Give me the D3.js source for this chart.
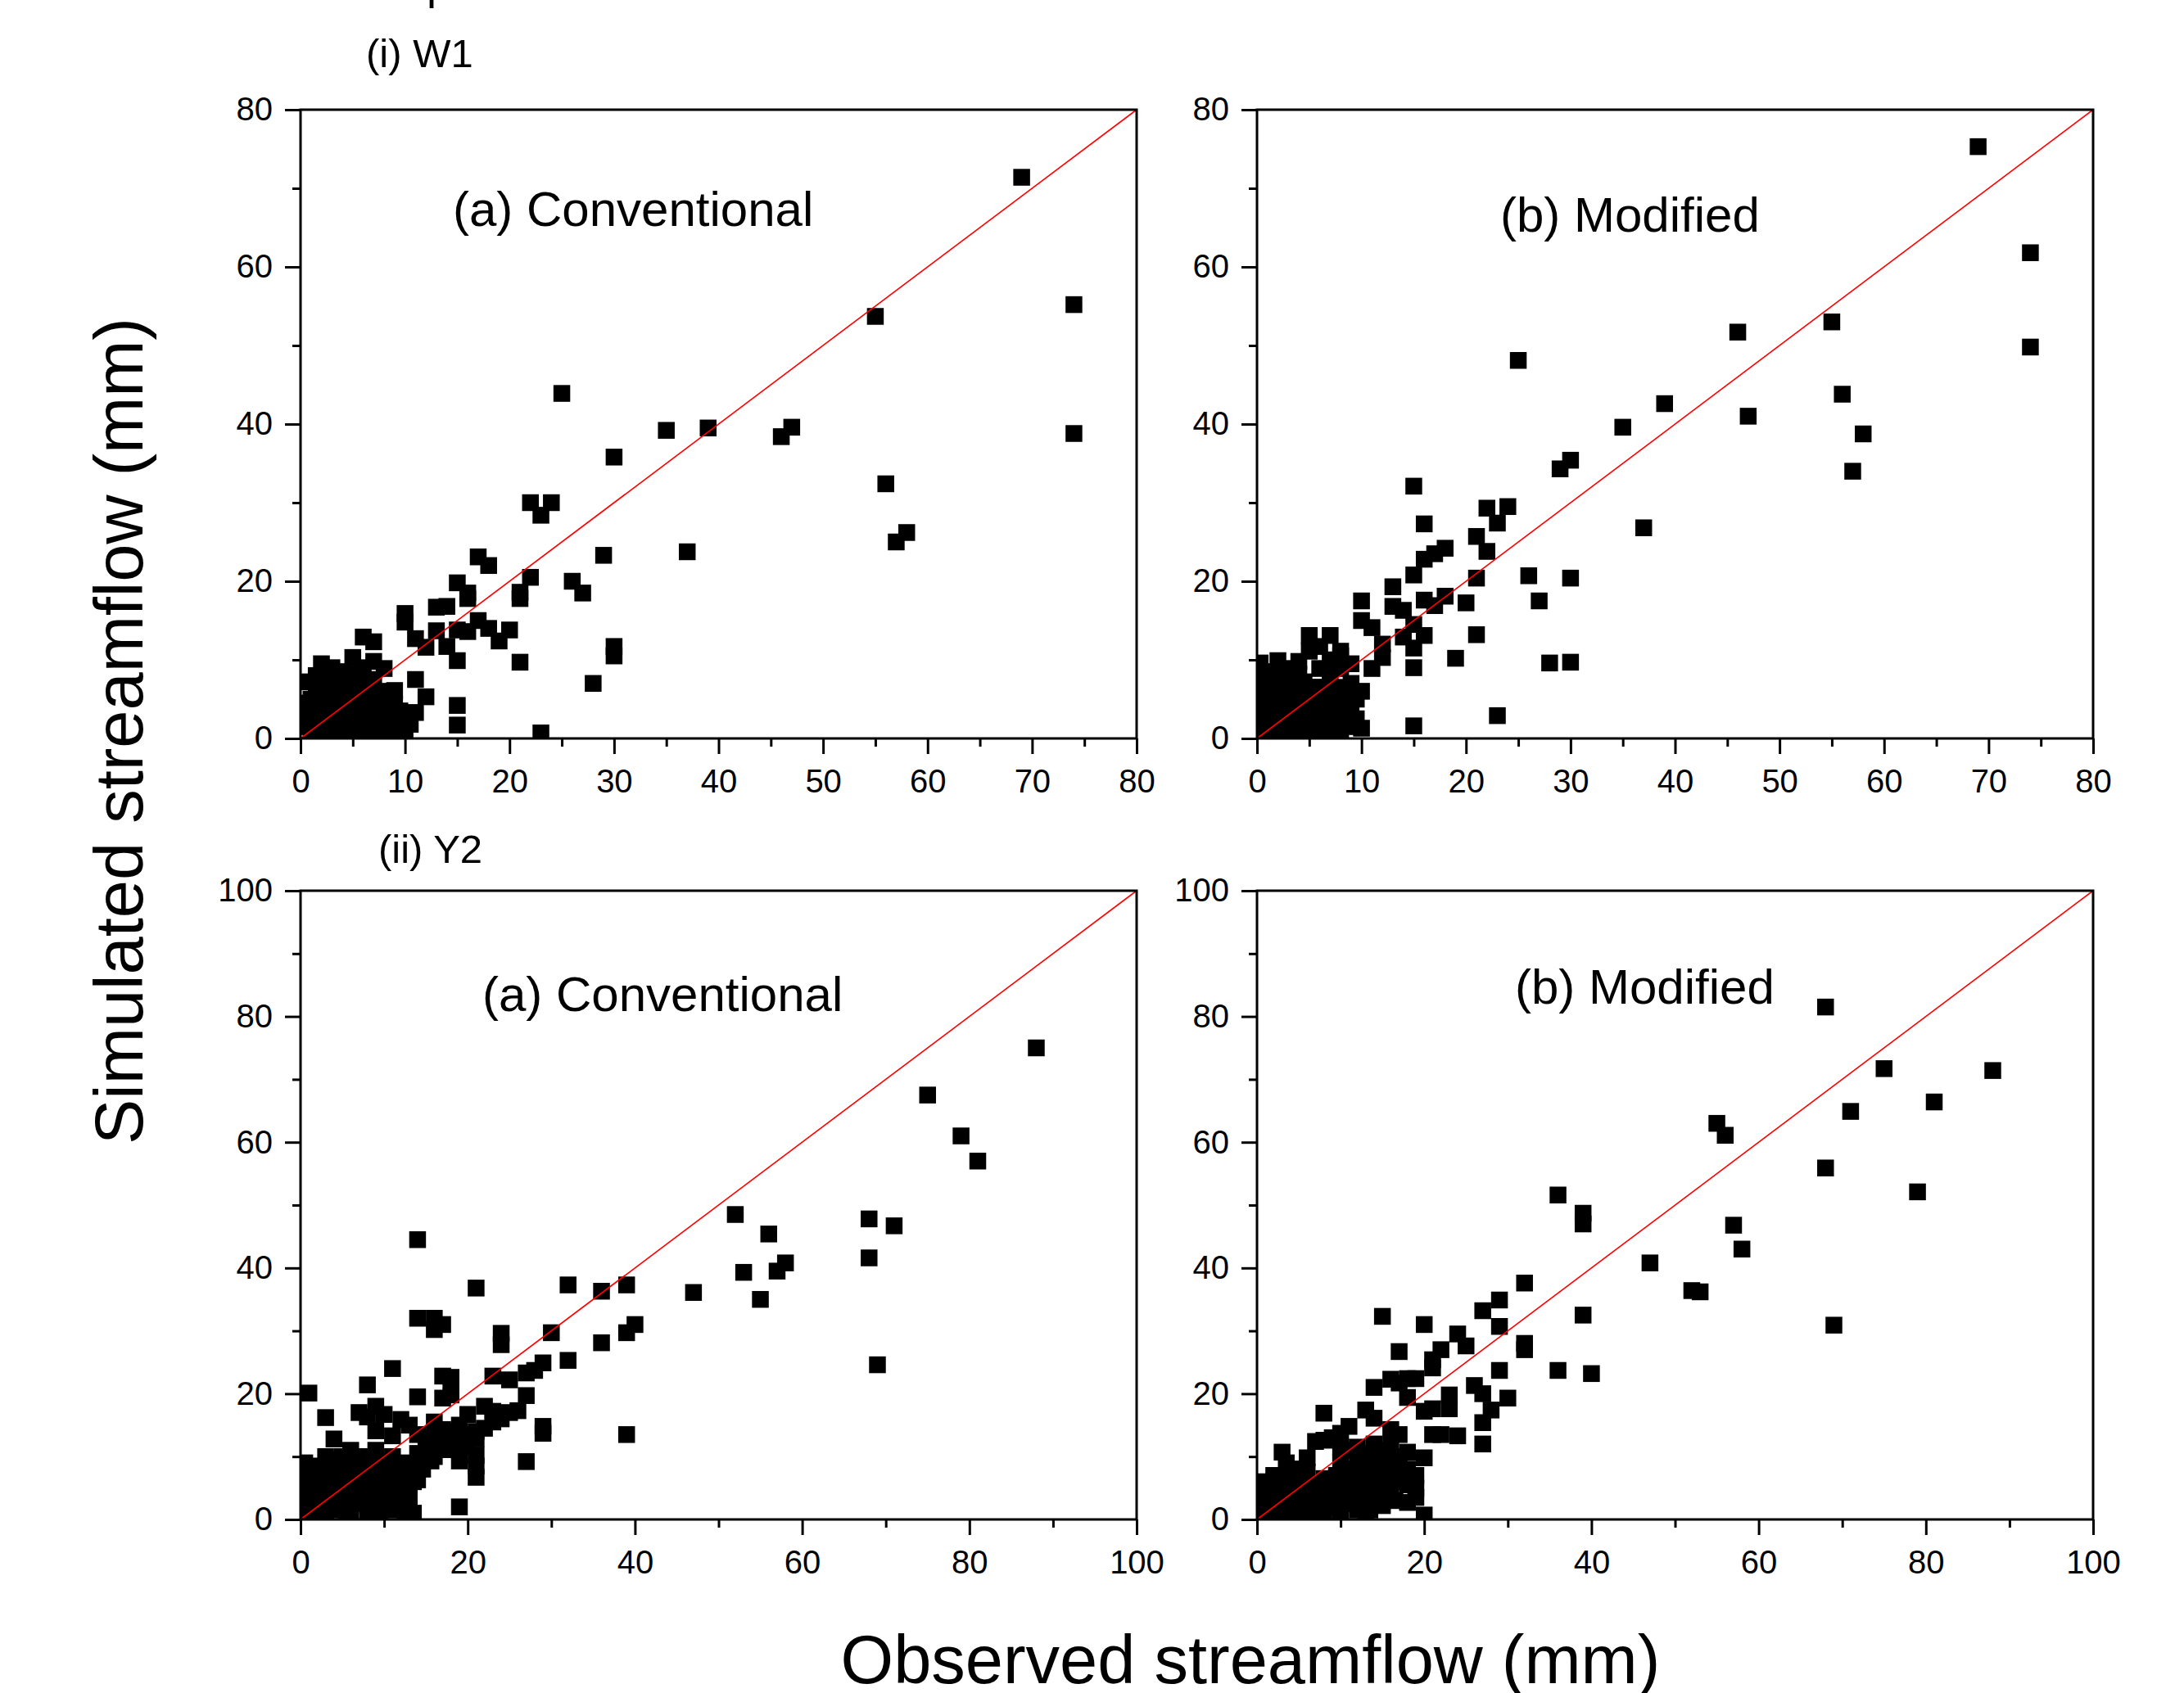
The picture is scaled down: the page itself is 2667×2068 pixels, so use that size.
<!DOCTYPE html>
<html>
<head>
<meta charset="utf-8">
<script src="https://cdn.jsdelivr.net/npm/d3@7"></script>
<style>
    body { margin: 0; background: #fff; }
    svg { display: block; font-family: "Liberation Sans", Arial, sans-serif; }
</style>
</head>
<body>
<div class="chart"></div>
<script>
(function () {
    // [observed, simulated] in mm
    const w1Conventional = [
        [69, 71.4], [74, 55.2], [74, 38.8], [55, 53.7], [46, 38.4], [47, 39.6], [56, 32.4], [57, 25], [58, 26.2],
        [37, 23.75], [35, 39.2], [39, 39.5], [25, 43.9], [30, 35.8], [22, 30], [24, 30], [23, 28.4], [29, 23.3],
        [17, 23.1], [18, 22], [22, 20.5], [21, 18.6], [21, 17.8], [26, 20], [27, 18.5], [15, 19.8], [16, 18.5],
        [16, 17.8], [13, 16.7], [14, 16.8], [10, 15.9], [10, 14.8], [17, 15], [18, 14], [20, 13.8], [19, 12.4],
        [11, 12.7], [12, 11.6], [13, 13.7], [14, 11.7], [15, 13.8], [16, 13.6], [15, 9.9], [21, 9.7], [30, 11.7],
        [30, 10.5], [28, 7], [15, 4.2], [15, 1.7], [23, 0.7], [6, 12.9], [7, 12.3], [2, 9.5], [5, 10.3], [7, 9.8],
        [8, 8.9], [11, 7.5], [12, 5.3], [11, 3.3], [9, 6.1], [9, 4.4], [10, 0.9],
        [0.5, 7.2], [1, 5], [1, 2.5], [1, 0.8], [2, 6.5], [2, 3.8], [2, 1.5], [3, 7.8], [3, 5.2], [3, 2.5], [3, 0.6],
        [4, 7], [4, 4.5], [4, 1.8], [5, 8.2], [5, 5.8], [5, 3], [5, 0.8], [6, 6.8], [6, 4], [6, 1.5], [7, 7.5],
        [7, 5.2], [7, 2.8], [7, 0.6], [8, 6], [8, 3.5], [8, 1.2], [9, 2.2], [3, 9], [4, 8.5], [6, 9], [0.3, 3.5], [10, 2.5],
        [0.5, 1.5], [0.5, 4.5], [1.5, 3], [1.5, 6.5], [2.5, 0.5], [2.5, 4.5], [3.5, 3.5], [3.5, 6.2], [4.5, 0.6],
        [4.5, 2.8], [5.5, 2], [5.5, 4.6], [5.5, 7], [6.5, 0.8], [6.5, 3.2], [6.5, 5.8], [7.5, 1.8], [7.5, 4.2],
        [8.5, 3.2], [8.5, 5.3], [8.5, 0.5], [9.5, 3.5], [1.5, 8], [10.5, 1.8], [2, 4.8], [4, 3.2]
    ];
    const w1Modified = [
        [69, 75.3], [74, 61.8], [74, 49.8], [55, 53], [46, 51.7], [25, 48.1], [56, 43.8], [47, 41], [58, 38.75],
        [57, 34], [39, 42.6], [35, 39.6], [30, 35.4], [29, 34.3], [15, 32.1], [16, 27.3], [22, 29.3], [24, 29.5],
        [23, 27.4], [21, 25.7], [22, 23.8], [37, 26.8], [16, 22.8], [17, 23.5], [18, 24.2], [15, 20.8], [21, 20.4],
        [26, 20.7], [30, 20.4], [27, 17.5], [20, 17.25], [13, 19.3], [13, 16.8], [14, 16.3], [10, 17.5], [10, 15],
        [11, 14.1], [16, 17.6], [18, 18.1], [17, 16.9], [12, 12], [11, 8.9], [12, 10.3], [15, 14.5], [15, 11.5],
        [16, 13.1], [14, 12.9], [15, 9], [21, 13.2], [19, 10.2], [28, 9.6], [30, 9.7], [23, 2.9], [15, 1.6], [10, 6],
        [10, 1.3], [5, 13.1], [7, 13.1], [6, 11.7], [8, 11.1], [5, 11.1], [8, 8.9], [6, 8.9], [2, 9.9], [3, 8.9],
        [4, 8.2], [0.3, 9.6], [1, 7], [1, 4], [1, 1.5], [2, 6], [2, 3], [3, 5], [3, 1], [4, 6.5], [4, 3], [5, 5],
        [5, 2], [6, 4], [6, 1], [6, 6.5], [7, 3], [7, 6], [8, 2], [8, 5], [8, 0.8], [9, 4], [9, 1.5], [9, 7], [3, 7],
        [2, 0.5], [0.5, 2], [0.5, 5.5], [9, 9.5],
        [0.5, 0.8], [0.5, 3.8], [0.5, 7.5], [1.5, 2.5], [1.5, 5.5], [1.5, 8.5], [2.5, 1.5], [2.5, 4.2], [2.5, 7.5],
        [3.5, 3], [3.5, 6], [4, 9.8], [4.5, 1], [4.5, 4.5], [4.5, 7.2], [5.5, 3.5], [5.5, 6.5], [6.5, 3], [6.5, 5.5],
        [7, 8], [7.5, 4.5], [7.5, 1], [8.5, 3], [8.5, 6.5], [9.5, 5], [9.5, 2.5], [7, 10], [8, 10.5]
    ];
    const y2Conventional = [
        [88, 75], [75, 67.5], [79, 61], [81, 57], [52, 48.5], [68, 47.8], [71, 46.7], [56, 45.4], [68, 41.6],
        [58, 40.8], [53, 39.3], [57, 39.5], [55, 35], [47, 36.1], [69, 24.6], [14, 44.5], [21, 36.8], [32, 37.3],
        [36, 36.3], [39, 37.3], [14, 32], [16, 32], [17, 31], [16, 30.2], [24, 29.6], [24, 27.8], [30, 29.7],
        [39, 29.7], [40, 31], [36, 28.1], [32, 25.3], [29, 24.9], [11, 24], [8, 21.4], [1, 20.1], [14, 19.5],
        [3, 16.2], [17, 22.8], [18, 22.6], [17, 19.3], [18, 19.8], [18, 21.1], [27, 19.7], [26, 17.3], [29, 14.8],
        [29, 13.7], [27, 9.2], [21, 6.7], [21, 10.2], [21, 12.8], [39, 13.5], [19, 2], [23, 17.2], [22, 18],
        [25, 22.2], [23, 22.8], [27, 23.3], [28, 23.7], [7, 17], [9, 18], [10, 16.7], [12, 15.9], [13, 15],
        [8, 16.3], [9, 14.1], [11, 13.3], [4, 12.8], [17, 14.3], [19, 15], [20, 16.7], [17.5, 11.1], [15.6, 9.3],
        [19, 9.3], [14.6, 8], [14, 6.3], [12, 2], [13, 2], [0.5, 9], [1, 7], [1, 4], [1, 1], [2, 8], [2, 5], [2, 2],
        [3, 10], [3, 6], [3, 3], [3, 0.5], [4, 8], [4, 5], [4, 1.5], [5, 10], [5, 7], [5, 3], [6, 11], [6, 8], [6, 4],
        [6, 1], [7, 9.5], [7, 6], [7, 2.5], [8, 10], [8, 7], [8, 4], [8, 1], [9, 11], [9, 8], [9, 5], [9, 2], [10, 9],
        [10, 6], [10, 3], [11, 10], [11, 7], [11, 4], [11, 1.5], [12, 8], [12, 5], [13, 7], [13, 3.5], [14, 10.5],
        [15, 12], [16, 10], [18, 12.5], [20, 13.5], [22, 14.5], [24, 16], [25, 17],
        [0.5, 2.5], [0.5, 5.5], [1.5, 3], [1.5, 6], [1.5, 8.5], [2.5, 1], [2.5, 4], [2.5, 7], [3.5, 2], [3.5, 5],
        [3.5, 8.5], [4.5, 3.5], [4.5, 6.5], [4.5, 9.5], [5.5, 1], [5.5, 5], [5.5, 8.5], [6.5, 2.5], [6.5, 6],
        [6.5, 10], [7.5, 4], [7.5, 8], [8.5, 2.5], [8.5, 6], [8.5, 9.5], [9.5, 1], [9.5, 4], [9.5, 7.5], [10.5, 2],
        [10.5, 5], [10.5, 8.5], [11.5, 3], [11.5, 6], [12.5, 1], [12.5, 4], [12.5, 9], [13.5, 6], [13.5, 1], [14, 8],
        [15, 10], [16, 12], [17, 12.5], [15.5, 13], [19, 12], [19, 11], [20, 11.5], [21, 14], [23, 15.5], [18, 14],
        [16, 15.5], [14, 13.5], [21, 8.5]
    ];
    const y2Modified = [
        [68, 81.5], [75, 71.7], [88, 71.4], [81, 66.4], [71, 64.9], [55, 63], [56, 61.1], [68, 55.9], [79, 52.1],
        [57, 46.8], [58, 43], [47, 40.8], [52, 36.4], [53, 36.2], [69, 30.9], [36, 51.6], [39, 48.7], [39, 47],
        [32, 37.6], [29, 34.9], [27, 33.2], [29, 30.7], [15, 32.3], [20, 31], [39, 32.5], [32, 28], [32, 27],
        [24, 29.5], [25, 27.6], [22, 27], [21, 25.4], [21, 24.1], [17, 26.7], [29, 23.7], [36, 23.7], [40, 23.2],
        [14, 21], [16, 22.3], [18, 22.4], [19, 22.4], [18, 19.4], [17, 21.7], [26, 21.3], [27, 20], [30, 19.3],
        [28, 17.4], [27, 15.4], [27, 12], [23, 19.8], [23, 17.6], [21, 17.6], [20, 17.2], [21, 13.5], [24, 13.3],
        [22, 13.5], [8, 16.9], [13, 17.4], [14, 16.1], [11, 14.8], [10, 13.7], [7, 12.4], [8, 12.6], [9, 13],
        [16, 14.3], [17, 13.5], [16, 11.7], [18, 10.7], [20, 9.8], [15, 2.2], [18, 2.7], [20, 0.7], [3, 10.7],
        [6, 9.8], [0.5, 6], [1, 4], [1, 1.5], [2, 7], [2, 3], [3, 5], [3, 1], [4, 8], [4, 4], [5, 6], [5, 2],
        [6, 7.5], [6, 4], [6, 1], [7, 5.5], [7, 2.5], [8, 6.5], [8, 4], [8, 1], [9, 6], [9, 2.5], [10, 9], [10, 4.5],
        [10, 1], [11, 7], [11, 3], [12, 9], [12, 5], [12, 1.5], [13, 7], [13, 3], [14, 9.5], [14, 5], [15, 7],
        [16, 8.5], [16, 4.5], [17, 6], [18, 8], [19, 5], [12, 11.5], [14, 12], [13, 0.5],
        [0.5, 2.5], [0.5, 4.5], [1.5, 1], [1.5, 3], [1.5, 5.5], [2.5, 2], [2.5, 4.5], [2.5, 6.5], [3.5, 3], [3.5, 7],
        [3.5, 9], [4.5, 1], [4.5, 3], [4.5, 6], [5.5, 4], [5.5, 8], [6.5, 2], [6.5, 5.5], [7.5, 3.5], [7.5, 1],
        [8.5, 5], [8.5, 2], [9.5, 3.5], [9.5, 7], [10.5, 2.5], [10.5, 6], [11.5, 4.5], [11.5, 8], [12.5, 3],
        [12.5, 6.5], [13.5, 5], [13.5, 8.5], [13.5, 1.5], [14.5, 3.5], [14.5, 7], [15.5, 6], [15.5, 9.5], [16.5, 3],
        [17, 8], [18, 5.5], [19, 7], [19, 3.5], [17, 10], [15, 11], [11, 11], [13, 10.5], [10, 11.5]
    ];

    const w1XMajor = [0, 10, 20, 30, 40, 50, 60, 70, 80];
    const w1XMinor = [5, 15, 25, 35, 45, 55, 65, 75];
    const w1YMajor = [0, 20, 40, 60, 80];
    const w1YMinor = [10, 30, 50, 70];
    const y2Major = [0, 20, 40, 60, 80, 100];
    const y2Minor = [10, 30, 50, 70, 90];

    const panelTitles = ['(a) Conventional', '(b) Modified', '(a) Conventional', '(b) Modified'];
    const groupLabels = ['(i) W1', '(ii) Y2'];
    const xLabel = 'Observed streamflow (mm)';
    const yLabel = 'Simulated streamflow (mm)';

    const width = 2667, height = 2068;
    const plotW = 1021, plotH = 768;

    const panels = [
        { data: w1Conventional, max: 80, xMajor: w1XMajor, xMinor: w1XMinor, yMajor: w1YMajor, yMinor: w1YMinor, left: 367, top: 134, title: panelTitles[0], tx: 186, ty: 142 },
        { data: w1Modified, max: 80, xMajor: w1XMajor, xMinor: w1XMinor, yMajor: w1YMajor, yMinor: w1YMinor, left: 1535, top: 134, title: panelTitles[1], tx: 297, ty: 149 },
        { data: y2Conventional, max: 100, xMajor: y2Major, xMinor: y2Minor, yMajor: y2Major, yMinor: y2Minor, left: 367, top: 1088, title: panelTitles[2], tx: 222, ty: 147 },
        { data: y2Modified, max: 100, xMajor: y2Major, xMinor: y2Minor, yMajor: y2Major, yMinor: y2Minor, left: 1535, top: 1088, title: panelTitles[3], tx: 315, ty: 138 }
    ];

    let svg = d3.select('.chart').append('svg')
        .attr('width', width)
        .attr('height', height);

    // cut-off text at the very top of the figure
    svg.append('text')
        .attr('x', 521)
        .attr('y', -1)
        .style('font-size', '54px')
        .text('p');

    svg.selectAll('text.group-label')
        .data(groupLabels)
        .join('text')
        .classed('group-label', true)
        .attr('x', (d, i) => i === 0 ? 447 : 462)
        .attr('y', (d, i) => i === 0 ? 82 : 1054)
        .style('font-size', '49px')
        .text(d => d);

    const square = d3.symbol().type(d3.symbolSquare).size(420);

    panels.forEach(function (p, i) {
        let x = d3.scaleLinear().domain([0, p.max]).range([0, plotW]);
        let y = d3.scaleLinear().domain([0, p.max]).range([plotH, 0]);

        let g = svg.append('g')
            .attr('transform', `translate(${p.left},${p.top})`);

        g.append('clipPath')
            .attr('id', 'clip' + i)
            .append('rect')
            .attr('width', plotW)
            .attr('height', plotH);

        g.append('g')
            .attr('clip-path', `url(#clip${i})`)
            .selectAll('path')
            .data(p.data)
            .join('path')
            .attr('d', square)
            .attr('transform', d => `translate(${x(d[0])},${y(d[1])})`)
            .attr('fill', '#000');

        // 1:1 line
        g.append('line')
            .attr('x1', x(0)).attr('y1', y(0))
            .attr('x2', x(p.max)).attr('y2', y(p.max))
            .attr('stroke', '#ff0000')
            .attr('stroke-width', 1.6);

        g.append('rect')
            .attr('width', plotW)
            .attr('height', plotH)
            .attr('fill', 'none')
            .attr('stroke', '#000')
            .attr('stroke-width', 3);

        let xMinorAxis = g.append('g')
            .attr('transform', `translate(0,${plotH})`)
            .call(d3.axisBottom(x).tickValues(p.xMinor).tickSize(10).tickFormat(''));
        let xMajorAxis = g.append('g')
            .attr('transform', `translate(0,${plotH})`)
            .call(d3.axisBottom(x).tickValues(p.xMajor).tickSize(19).tickPadding(18.6).tickFormat(d3.format('d')));
        let yMinorAxis = g.append('g')
            .call(d3.axisLeft(y).tickValues(p.yMinor).tickSize(10).tickFormat(''));
        let yMajorAxis = g.append('g')
            .call(d3.axisLeft(y).tickValues(p.yMajor).tickSize(19).tickPadding(15).tickFormat(d3.format('d')));

        [xMinorAxis, xMajorAxis, yMinorAxis, yMajorAxis].forEach(function (a) {
            a.select('.domain').remove();
            a.selectAll('.tick line').attr('stroke', '#000').attr('stroke-width', 3);
            a.attr('font-family', null).attr('font-size', null);
            a.selectAll('.tick text').attr('fill', '#000').style('font-size', '40px');
        });

        g.append('text')
            .attr('x', p.tx)
            .attr('y', p.ty)
            .style('font-size', '60px')
            .text(p.title);
    });

    svg.append('text')
        .attr('text-anchor', 'middle')
        .attr('transform', 'translate(174,893) rotate(-90)')
        .style('font-size', '83px')
        .text(yLabel);

    svg.append('text')
        .attr('text-anchor', 'middle')
        .attr('x', 1527)
        .attr('y', 2056)
        .style('font-size', '83px')
        .text(xLabel);
})();
</script>
</body>
</html>
